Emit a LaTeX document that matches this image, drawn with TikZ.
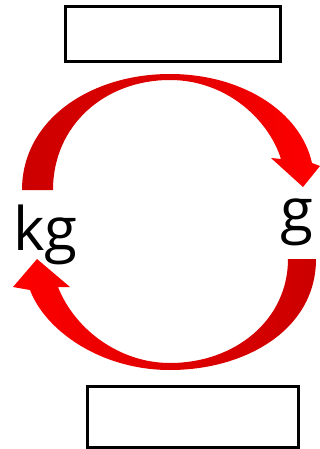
\documentclass[tikz,border=0pt]{standalone}
\usepackage{fontspec}
\setmainfont{Open Sans}
\definecolor{darkred}{RGB}{204,0,0}
\definecolor{brightred}{RGB}{255,0,0}
\begin{document}
\begin{tikzpicture}[x=1pt,y=-1pt,
  emptybox/.style={draw=black,line width=3pt,fill=white},
  unit/.style={font=\fontsize{60}{60}\selectfont,inner sep=0pt,anchor=base west}]
\useasboundingbox (0,0) rectangle (320,449);
\node[emptybox,minimum width=215pt,minimum height=55pt,anchor=north west,inner sep=0pt] (topbox) at (63.5,5.5) {};
\node[emptybox,minimum width=211pt,minimum height=61pt,anchor=north west,inner sep=0pt] (botbox) at (85.5,384.5) {};
% top arrow kg -> g
\shade[left color=darkred,right color=brightred,middle color=darkred!60!brightred]
 (22,190) .. controls (22,120) and (90,74) .. (170,74)
 .. controls (240,74) and (300,110) .. (312,163)
 -- (320,166) -- (303,187) -- (271,158) -- (281,159)
 .. controls (268,118) and (225,80) .. (170,80)
 .. controls (105,80) and (53,125) .. (53,190) -- cycle;
% bottom arrow g -> kg
\shade[left color=brightred,right color=darkred,middle color=darkred!60!brightred]
 (316,259) .. controls (316,330) and (245,370) .. (170,370)
 .. controls (100,370) and (45,330) .. (30,290)
 -- (13,287) -- (37,259) -- (70,287) -- (58,287)
 .. controls (75,330) and (120,363) .. (170,363)
 .. controls (235,363) and (288,320) .. (288,259) -- cycle;
\node[unit] (kg) at (13,250) {kg};
\node[unit] (g) at (280,231) {g};
\end{tikzpicture}
\end{document}
